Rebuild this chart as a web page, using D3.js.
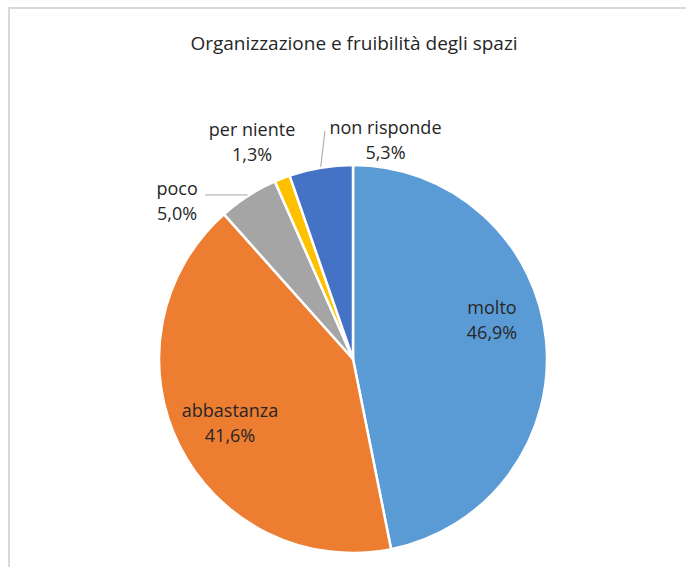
<!DOCTYPE html>
<html>
<head>
<meta charset="utf-8">
<script src="https://cdn.jsdelivr.net/npm/d3@7"></script>
<style>
  body { margin: 0; background: #fff; }
  text { font-family: "Open Sans", "Noto Sans", sans-serif; fill: #262626; }
</style>
</head>
<body>
<svg class="scene"></svg>
<script>
//
// data
//

var categories = ["molto", "abbastanza", "poco", "per niente", "non risponde"];
var values = [46.9, 41.6, 5.0, 1.3, 5.3];
var labels = ["46,9%", "41,6%", "5,0%", "1,3%", "5,3%"];
var colors = ["#5B9BD5", "#ED7D31", "#A5A5A5", "#FFC000", "#4472C4"];

//
// scene
//

var width = 686,
    height = 567;

var scene = d3.select(".scene")
    .attr("width", width)
    .attr("height", height);

// frame (chart area cropped at right/bottom)
scene.append("rect")
    .attr("x", 9)
    .attr("y", 8)
    .attr("width", width + 20)
    .attr("height", height + 20)
    .attr("fill", "none")
    .attr("stroke", "#d9d9d9")
    .attr("stroke-width", 2);

// title
scene.append("text")
    .attr("x", 354)
    .attr("y", 50)
    .attr("text-anchor", "middle")
    .style("font-size", "19px")
    .text("Organizzazione e fruibilità degli spazi");

//
// pie
//

var cx = 353, cy = 359, r = 194;

var pie = d3.pie()
    .sort(null)
    .value(function (d) { return d; });

var arcs = pie(values);

var arc = d3.arc()
    .innerRadius(0)
    .outerRadius(r);

var g = scene.append("g")
    .attr("transform", "translate(" + cx + "," + cy + ")");

g.selectAll("path.slice")
    .data(arcs)
    .enter().append("path")
    .attr("class", "slice")
    .attr("d", arc)
    .attr("fill", function (d, i) { return colors[i]; })
    .attr("stroke", "#fff")
    .attr("stroke-width", 2.5)
    .attr("stroke-linejoin", "round");

//
// labels
//

function mid(d) { return (d.startAngle + d.endAngle) / 2; }
function polar(a, rad) { return [rad * Math.sin(a), -rad * Math.cos(a)]; }

// inside labels use radius 0.72r, outside ones 1.2r; nudges mimic Excel best fit
var labelRadius = [0.72, 0.72, 1.2, 1.2, 1.2];
var nudge = [[0, -25], [2, 2], [-50, 38], [-16, 0], [71, 11]];

var lab = g.selectAll("text.lbl")
    .data(arcs)
    .enter().append("text")
    .attr("class", "lbl")
    .attr("text-anchor", "middle")
    .style("font-size", "18px")
    .attr("transform", function (d, i) {
        var p = polar(mid(d), labelRadius[i] * r);
        return "translate(" + (p[0] + nudge[i][0]) + "," + (p[1] + nudge[i][1]) + ")";
    });

lab.append("tspan")
    .attr("x", 0)
    .attr("dy", "-0.34em")
    .text(function (d, i) { return categories[i]; });

lab.append("tspan")
    .attr("x", 0)
    .attr("dy", "1.39em")
    .text(function (d, i) { return labels[i]; });

// leader lines: poco (horizontal) and non risponde
var leaders = [
    { i: 2, to: function (p) { return [205 - cx, p[1]]; } },
    { i: 4, to: function (p) { return [325 - cx, 131 - cy]; } }
];

leaders.forEach(function (l) {
    var p = polar(mid(arcs[l.i]), r + 1);
    var q = l.to(p);
    g.append("line")
        .attr("x1", p[0])
        .attr("y1", p[1])
        .attr("x2", q[0])
        .attr("y2", q[1])
        .attr("stroke", "#a6a6a6")
        .attr("stroke-width", 1);
});
</script>
</body>
</html>
